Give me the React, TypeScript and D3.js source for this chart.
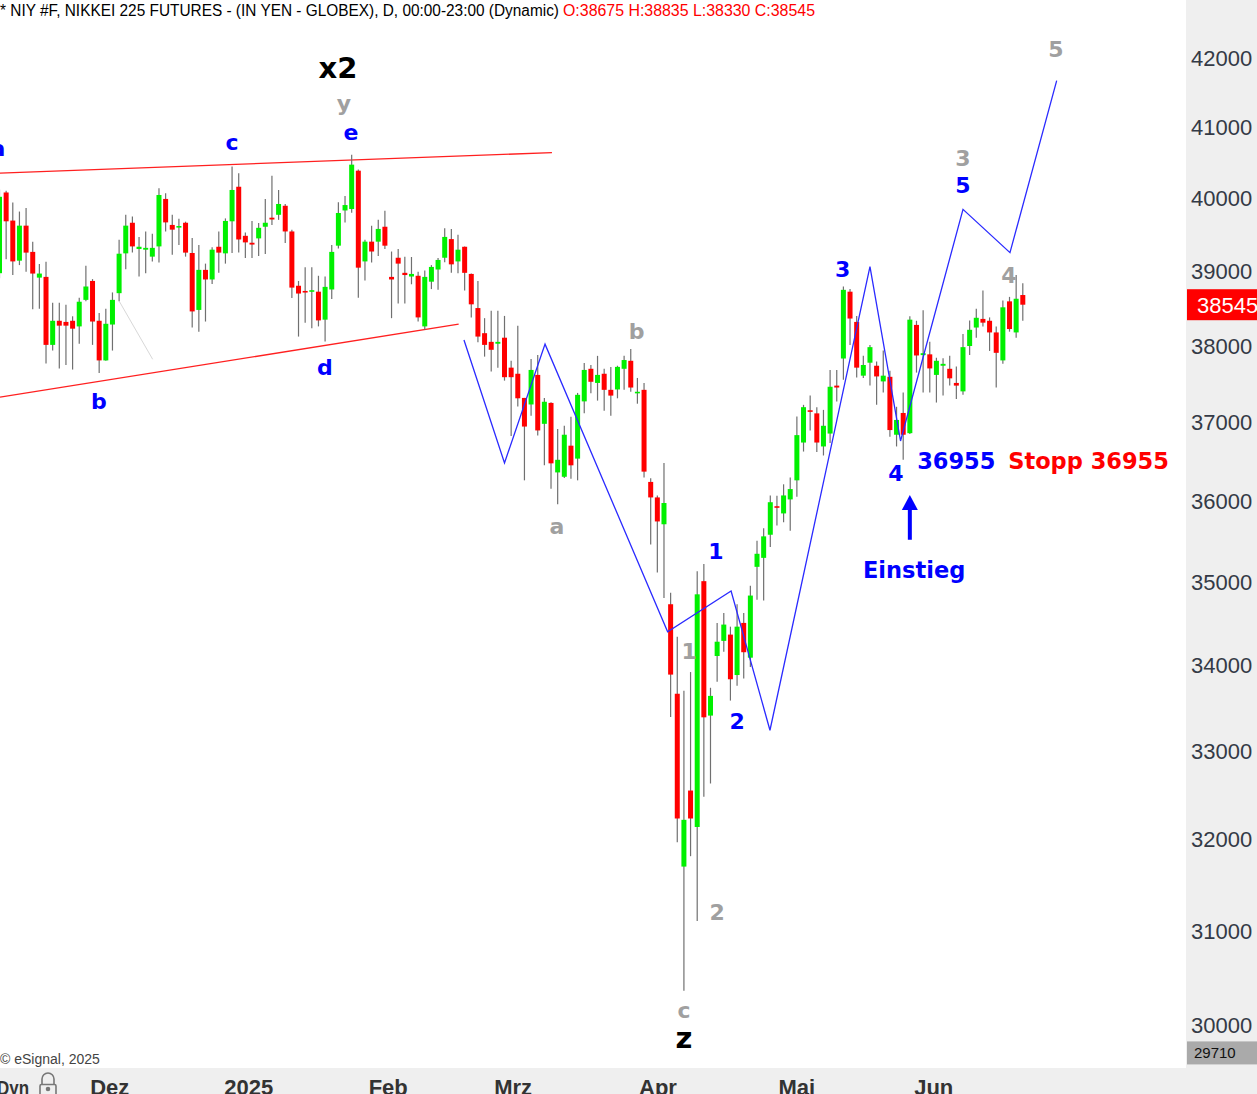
import React, { useEffect } from 'react';
import * as d3 from 'd3';

// ---- OHLC data (daily candles, Nov 2024 – Jun 2025) ----
const opens = [
  38970, 40080, 39690, 39140, 39620, 39260, 38910, 38920, 38010, 38330,
  38315, 38330, 38255, 38610, 38865, 38330, 37805, 38280, 38700, 39240,
  39660, 39300, 39290, 39195, 39335, 39990, 39630, 39595, 39660, 39245,
  38475, 39015, 38885, 39330, 39240, 39680, 40160, 39480, 39385, 39445,
  39605, 39730, 39770, 39895, 39540, 38800, 38730, 38725, 38720, 38345,
  38750, 39345, 39830, 39850, 40385, 39130, 39400, 39400, 39605, 38920,
  39180, 38975, 38925, 38935, 38255, 38855, 39020, 39180, 39435, 39130,
  39330, 38960, 38500, 38165, 38050, 38025, 38105, 37710, 37630, 37315,
  37230, 37615, 36980, 37250, 36360, 36305, 36700, 36535, 37270, 37695,
  37510, 37630, 37420, 37425, 37695, 37800, 37375, 37420, 36240, 36045,
  35710, 34730, 33665, 31700, 32550, 32140, 35010, 33410, 34110, 34290,
  34365, 33885, 34505, 34090, 35185, 35295, 35580, 35935, 35845, 36020,
  36260, 36740, 37155, 37115, 36690, 36855, 37475, 37830, 38720, 38315,
  37605, 37775, 37735, 37530, 37590, 36840, 37120, 36860, 38275, 37875,
  37885, 37615, 37735, 37695, 37510, 37400, 37995, 38240, 38355, 38330,
  38175, 37805, 38590, 38175, 38675,
];
const highs = [
  40120, 40105, 39940, 39815, 39865, 39400, 39095, 39125, 38570, 38570,
  38545, 38390, 38640, 39070, 38890, 38435, 38490, 38710, 39425, 39770,
  39745, 39465, 39540, 39510, 40140, 40070, 39770, 39715, 39675, 39450,
  39355, 39100, 39325, 39540, 39720, 40445, 40350, 39525, 39685, 39655,
  39990, 40315, 40115, 39920, 39565, 38865, 39050, 39050, 38935, 38925,
  39355, 39945, 40030, 40610, 40400, 39425, 39620, 39700, 39825, 39265,
  39300, 39195, 39190, 38990, 39005, 39080, 39175, 39585, 39575, 39495,
  39335, 38965, 38865, 38365, 38465, 38465, 38395, 37800, 38265, 37315,
  37825, 37875, 37315, 37260, 36915, 36955, 37070, 37380, 37770, 37745,
  37865, 37695, 37720, 37735, 37865, 37955, 37575, 37510, 36285, 36070,
  36480, 34870, 34340, 33700, 33920, 35130, 35220, 33735, 34505, 34625,
  34460, 34730, 34625, 34955, 35505, 35660, 36070, 36065, 36210, 36295,
  37075, 37225, 37345, 37195, 37160, 37680, 37680, 38790, 38755, 38395,
  37865, 38010, 37790, 37935, 37670, 37200, 37385, 38390, 38330, 38470,
  38050, 37840, 37835, 37865, 37725, 38155, 38335, 38490, 38735, 38375,
  38255, 38600, 38650, 38945, 38835,
];
const lows = [
  38900, 39160, 38945, 39080, 38990, 38485, 38490, 37765, 37935, 37700,
  37745, 37685, 38025, 38590, 38010, 37640, 37800, 37935, 38590, 39025,
  39250, 38925, 38970, 39130, 39115, 39540, 39220, 39355, 39195, 38240,
  38185, 38320, 38825, 38975, 39100, 39245, 39250, 39175, 39175, 39205,
  39230, 39630, 39700, 39380, 38635, 38120, 38305, 38230, 38255, 38055,
  38620, 39305, 39665, 39800, 38640, 38870, 39115, 39205, 39300, 38365,
  38560, 38560, 38820, 38320, 38210, 38755, 38745, 39120, 38975, 38970,
  38735, 38375, 38045, 37855, 37660, 37710, 37540, 36825, 37205, 36260,
  37085, 36830, 36450, 36155, 35960, 36290, 36280, 36260, 37115, 37375,
  37280, 37150, 37085, 37310, 37420, 37395, 37240, 36295, 35460, 35115,
  34805, 33395, 31970, 30360, 31815, 31105, 32480, 32630, 33805, 34160,
  33585, 33760, 33845, 33980, 34785, 34775, 35430, 35695, 35735, 35630,
  36055, 36625, 36895, 36620, 36575, 36735, 37270, 37550, 38010, 37580,
  37575, 37475, 37225, 37385, 36815, 36690, 36520, 36850, 37645, 37385,
  37385, 37255, 37345, 37475, 37300, 37355, 37875, 38105, 38255, 37930,
  37450, 37760, 38185, 38105, 38330,
];
const closes = [
  40020, 39680, 39130, 39620, 39250, 38965, 38965, 38010, 38330, 38265,
  38265, 38225, 38585, 38790, 38320, 37805, 38290, 38610, 39235, 39620,
  39335, 39330, 39315, 39315, 40045, 39665, 39565, 39615, 39250, 38455,
  39015, 38885, 39290, 39250, 39685, 40115, 39430, 39390, 39360, 39590,
  39660, 39705, 39920, 39540, 38775, 38695, 38710, 38740, 38335, 38785,
  39260, 39795, 39905, 40470, 39045, 39400, 39265, 39575, 39345, 38885,
  39100, 38945, 38960, 38375, 38920, 39055, 39150, 39465, 39090, 39290,
  38975, 38550, 38120, 38010, 37945, 38050, 37585, 37585, 37310, 36945,
  37680, 36895, 37265, 36475, 36520, 36840, 36450, 37355, 37680, 37525,
  37615, 37420, 37345, 37720, 37810, 37450, 37395, 36370, 36045, 35745,
  35975, 33890, 32235, 32220, 32235, 34850, 33390, 33640, 34280, 34485,
  33835, 34460, 34155, 34835, 35345, 35560, 35985, 35920, 36070, 36150,
  36835, 37195, 37135, 36740, 36955, 37460, 37450, 38745, 38360, 37710,
  37745, 37980, 37595, 37605, 36900, 37030, 36840, 38345, 37870, 37900,
  37700, 37800, 37760, 37570, 37475, 37980, 38210, 38370, 38305, 38175,
  37905, 38510, 38220, 38625, 38545,
];

// ---- axis ----
const priceTicks = [30000, 31000, 32000, 33000, 34000, 35000, 36000, 37000, 38000, 39000, 40000, 41000, 42000];
const monthLabels = ['Dez', '2025', 'Feb', 'Mrz', 'Apr', 'Mai', 'Jun'];
const monthPos = [16.6, 37.5, 58.5, 77.3, 99.1, 120.0, 140.6];
const lastPrice = 38545;
const bottomPrice = 29710;

// ---- drawn lines (bar index, price) ----
const waveIdx = [69.9, 76.0, 82.1, 100.55, 110.1, 115.95, 131.0, 135.6, 145.0, 152.07, 159.1];
const wavePrice = [38075, 36480, 38020, 34400, 34890, 33240, 39060, 36760, 39845, 39250, 41670];
const upperIdx = [0.075, 83.14];
const upperPrice = [40350, 40640];
const lowerIdx = [0.075, 69.1];
const lowerPrice = [37325, 38285];
const grayIdx = [18.03, 23.05];
const grayPrice = [38590, 37820];

// ---- labels ----
const labelText = ['x2', 'y', 'e', 'c', 'a', 'b', 'd', 'b', 'a', '1', '1', '2', '2', 'c', 'z', '3', '4', '3', '5', '4', '5'];
const labelIdx = [50.94, 51.84, 52.9, 35.0, -0.23, 14.97, 48.98, 95.9, 83.9, 107.8, 103.8, 111.0, 108.0, 103.0, 103.0, 126.9, 134.9, 145.0, 145.0, 151.9, 159.0];
const labelPrice = [41709, 41233, 40818, 40677, 40592, 37173, 37617, 38089, 35592, 35284, 34076, 33257, 31119, 30074, 29759, 38920, 36254, 40454, 40074, 38839, 42015];
const labelKind = ['black', 'gray', 'blue', 'blue', 'blue', 'blue', 'blue', 'gray', 'gray', 'blue', 'gray', 'blue', 'gray', 'gray', 'black', 'blue', 'blue', 'gray', 'blue', 'gray', 'gray'];

const noteText = ['36955', 'Stopp 36955', 'Einstieg'];
const noteIdx = [138.1, 151.8, 129.95];
const notePrice = [36406, 36406, 35049];
const noteKind = ['blue', 'red', 'blue'];
const arrowIdx = 137.0;
const arrowPrice = [36076, 35518];

const W = 1257;
const H = 1094;
const COL: Record<string, string> = { black: '#000000', gray: '#a0a0a0', blue: '#0000ff', red: '#ff0000' };
const LABEL_FONT = '"DejaVu Sans", Verdana, sans-serif';

export default function App() {
  useEffect(() => {
    document.body.style.margin = '0';
    document.body.style.overflow = 'hidden';
  }, []);

  const x = d3.scaleLinear().domain([0, 154]).range([-0.5, 1022.8]);
  const y = d3.scaleLog().domain([30000, 42000]).range([1025, 58]);
  const bodyW = 5;
  const line = d3.line<[number, number]>().x((d) => x(d[0])).y((d) => y(d[1]));

  const axisX = 1186;
  const plotBottom = 1068;
  const ly = y(lastPrice);
  const by = y(bottomPrice);

  return (
    <svg width={W} height={H} style={{ display: 'block', background: '#fff' }} fontFamily='"Liberation Sans", Arial, sans-serif'>
      <defs>
        <clipPath id="plot">
          <rect x={0} y={0} width={axisX} height={plotBottom} />
        </clipPath>
      </defs>
      <g clipPath="url(#plot)">
        {/* channel lines */}
        <path d={line(upperIdx.map((v, i) => [v, upperPrice[i]]) as [number, number][]) || ''} stroke="#ff2020" strokeWidth={1.3} fill="none" />
        <path d={line(lowerIdx.map((v, i) => [v, lowerPrice[i]]) as [number, number][]) || ''} stroke="#ff2020" strokeWidth={1.3} fill="none" />
        <path d={line(grayIdx.map((v, i) => [v, grayPrice[i]]) as [number, number][]) || ''} stroke="#d8d8d8" strokeWidth={1} fill="none" />
        {/* candles */}
        {opens.map((o, i) => {
          const c = closes[i];
          const cx = x(i);
          const up = c >= o;
          const top = y(Math.max(o, c));
          const bot = y(Math.min(o, c));
          return (
            <g key={i}>
              <line x1={cx} x2={cx} y1={y(highs[i])} y2={y(lows[i])} stroke="#707070" strokeWidth={1.2} />
              <rect x={cx - bodyW / 2} y={top} width={bodyW} height={Math.max(1.6, bot - top)} fill={up ? '#00f000' : '#ff0000'} />
            </g>
          );
        })}
        {/* wave projection */}
        <path d={line(waveIdx.map((v, i) => [v, wavePrice[i]]) as [number, number][]) || ''} stroke="#2a2aff" strokeWidth={1.3} fill="none" />
        {/* wave labels */}
        {labelText.map((t, i) => {
          const big = labelKind[i] === 'black';
          return (
            <text key={i} x={x(labelIdx[i])} y={y(labelPrice[i])} textAnchor="middle" fontFamily={LABEL_FONT} fontWeight="bold" fontSize={big ? 29 : 22} fill={COL[labelKind[i]]}>
              {t}
            </text>
          );
        })}
        {noteText.map((t, i) => (
          <text key={i} x={x(noteIdx[i])} y={y(notePrice[i])} fontFamily={LABEL_FONT} fontWeight="bold" fontSize={22.5} fill={COL[noteKind[i]]}>
            {t}
          </text>
        ))}
        {/* entry arrow */}
        <line x1={x(arrowIdx)} x2={x(arrowIdx)} y1={y(arrowPrice[0]) + 12} y2={y(arrowPrice[1])} stroke="#0000ff" strokeWidth={4} />
        <path d={`M${x(arrowIdx)},${y(arrowPrice[0])} L${x(arrowIdx) - 8},${y(arrowPrice[0]) + 15} L${x(arrowIdx) + 8},${y(arrowPrice[0]) + 15} Z`} fill="#0000ff" />
      </g>

      {/* header */}
      <text x={0} y={16} fontSize={16} fontFamily='"Liberation Sans Narrow", "Arial Narrow", "Liberation Sans", Arial, sans-serif' fill="#000" textLength={559} lengthAdjust="spacingAndGlyphs">
        * NIY #F, NIKKEI 225 FUTURES - (IN YEN - GLOBEX), D, 00:00-23:00 (Dynamic)
      </text>
      <text x={563} y={16} fontSize={16} fontFamily='"Liberation Sans Narrow", "Arial Narrow", "Liberation Sans", Arial, sans-serif' fill="#ff0000" textLength={252} lengthAdjust="spacingAndGlyphs">
        O:38675 H:38835 L:38330 C:38545
      </text>

      {/* copyright */}
      <text x={0} y={1064} fontSize={14} fill="#444">© eSignal, 2025</text>

      {/* right price axis */}
      <rect x={axisX} y={0} width={W - axisX} height={H} fill="#efefef" />
      {priceTicks.map((p) => (
        <text key={p} x={1191} y={y(p)} dy="0.36em" fontSize={22} fill="#343a46">
          {p}
        </text>
      ))}
      <rect x={axisX + 1} y={ly - 15.5} width={W - axisX} height={31} fill="#ff0000" />
      <text x={1197} y={ly} dy="0.36em" fontSize={22} fill="#ffffff">{lastPrice}</text>
      <rect x={axisX + 1} y={by - 11.5} width={W - axisX} height={23} fill="#aaaaaa" />
      <text x={1194} y={by} dy="0.36em" fontSize={15} fill="#111">{bottomPrice}</text>

      {/* time axis */}
      <rect x={0} y={plotBottom} width={W} height={H - plotBottom} fill="#efefef" />
      {monthLabels.map((m, i) => (
        <text key={m} x={x(monthPos[i])} y={1095} textAnchor="middle" fontSize={22} fontWeight="bold" fill="#333">
          {m}
        </text>
      ))}
      <text x={-3} y={1095} fontSize={21} fontWeight="bold" fill="#333" textLength={32} lengthAdjust="spacingAndGlyphs">Dyn</text>
      <g stroke="#777" fill="none" strokeWidth={1.6}>
        <path d="M42,1085 L42,1079 A6,6 0 0 1 54,1079 L54,1085" />
        <rect x={40} y={1084.5} width={16} height={12} rx={1.5} />
        <circle cx={48} cy={1089} r={1.5} fill="#777" />
      </g>
    </svg>
  );
}
